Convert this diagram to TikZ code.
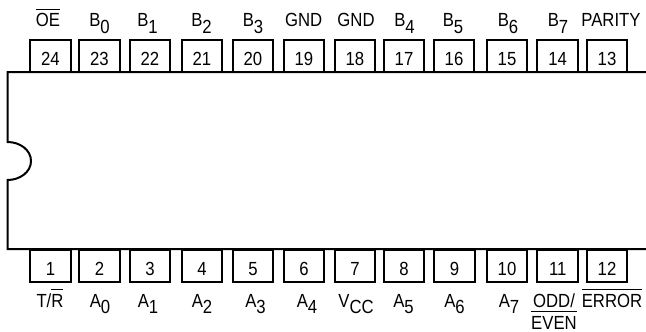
\documentclass[tikz,border=0pt]{standalone}
\usepackage{fontspec}
\setmainfont[FakeStretch=0.88]{Liberation Sans}
\usepackage{calc}
\newcommand{\sbs}[1]{\raisebox{-6pt}{#1}}
\newcommand{\ovl}[1]{\leavevmode\rlap{\raisebox{17.3pt}{\rule{\widthof{#1}}{1pt}}}#1}
\tikzset{
  x=1pt,y=-1pt,
  pin/.style={draw=black,line width=2pt,fill=white,minimum width=40.6pt,minimum height=32pt,inner sep=0pt,text height=19.5pt,text depth=0pt,font=\fontsize{19pt}{20pt}\selectfont,line join=miter},
  sig/.style={inner sep=0pt,anchor=base,font=\fontsize{19pt}{20pt}\selectfont},
  body/.style={draw=black,line width=2pt,line join=miter}
}
\begin{document}
\begin{tikzpicture}
\useasboundingbox (0,0) rectangle (646,332);
\coordinate (tr) at (646,72);
\coordinate (tl) at (7.5,72);
\coordinate (nt) at (7.5,142);
\coordinate (nm) at (31,161);
\coordinate (nb) at (7.5,180);
\coordinate (bl) at (7.5,249);
\coordinate (br) at (646,249);
\draw[body] (tr) -- (tl) -- (nt) .. controls (20,142) and (31,150) .. (nm) .. controls (31,172) and (20,180) .. (nb) -- (bl) -- (br);
\foreach \n/\x in {24/50.5,23/99.5,22/150,21/202,20/253,19/304,18/355,17/404,16/454,15/507,14/557.7,13/607}
  \node[pin] (p\n) at (\x,56) {\n};
\foreach \n/\x in {1/50.5,2/99.5,3/150,4/202,5/253,6/304,7/355,8/404,9/454.5,10/507,11/557.7,12/607}
  \node[pin] (p\n) at (\x,266) {\n};
\node[sig] (oe) at (48,27) {\ovl{OE}};
\node[sig] (b0) at (99.5,27) {B\sbs{0}};
\node[sig] (b1) at (147.5,27) {B\sbs{1}};
\node[sig] (b2) at (201.5,27) {B\sbs{2}};
\node[sig] (b3) at (253,27) {B\sbs{3}};
\node[sig] (g1) at (303.7,27) {GND};
\node[sig] (g2) at (356,27) {GND};
\node[sig] (b4) at (404.5,27) {B\sbs{4}};
\node[sig] (b5) at (453,27) {B\sbs{5}};
\node[sig] (b6) at (508,27) {B\sbs{6}};
\node[sig] (b7) at (558,27) {B\sbs{7}};
\node[sig] (par) at (611,27) {PARITY};
\node[sig] (tr2) at (50,307) {T/\ovl{R}};
\node[sig] (a0) at (100,307) {A\sbs{0}};
\node[sig] (a1) at (148,307) {A\sbs{1}};
\node[sig] (a2) at (202,307) {A\sbs{2}};
\node[sig] (a3) at (255.5,307) {A\sbs{3}};
\node[sig] (a4) at (307,307) {A\sbs{4}};
\node[sig] (vcc) at (356,307) {V\sbs{CC}};
\node[sig] (a5) at (403.5,307) {A\sbs{5}};
\node[sig] (a6) at (454.5,307) {A\sbs{6}};
\node[sig] (a7) at (509,307) {A\sbs{7}};
\node[sig] (odd) at (554,307) {ODD/};
\node[sig] (even) at (554,329) {\ovl{EVEN}};
\node[sig] (err) at (612,307) {\ovl{ERROR}};
\end{tikzpicture}
\end{document}
